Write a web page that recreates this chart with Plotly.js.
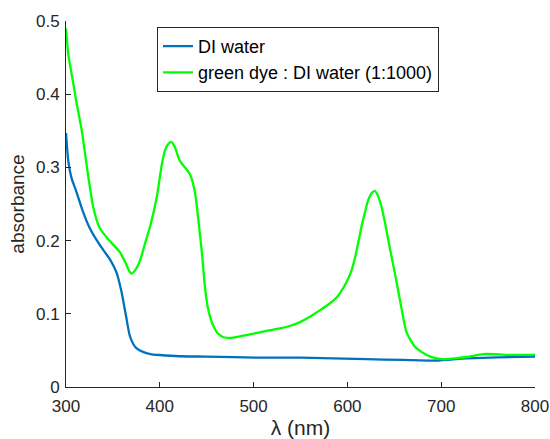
<!DOCTYPE html>
<html>
<head>
<meta charset="utf-8">
<script src="https://cdn.plot.ly/plotly-3.0.1.min.js"></script>
<style>html,body{margin:0;padding:0;background:#fff;}#chart{width:550px;height:439px;}</style>
</head>
<body>
<div id="chart"></div>
<script>
// DI water
const waterWavelength = [300, 302.5, 306, 311, 318, 325, 336, 347, 354, 359, 364, 368, 372, 375, 382, 390, 400, 421, 450, 507, 550, 620, 660, 691, 710, 727, 760, 800];
const waterAbsorbance = [0.347, 0.308, 0.285, 0.267, 0.240, 0.218, 0.194, 0.174, 0.156, 0.131, 0.097, 0.070, 0.058, 0.053, 0.048, 0.045, 0.0437, 0.0420, 0.0415, 0.0400, 0.0400, 0.0380, 0.0370, 0.0360, 0.0375, 0.0390, 0.0405, 0.0415];

// green dye : DI water (1:1000)
const dyeWavelength = [300, 302.5, 308, 311, 317, 322, 329, 336, 347, 357, 363, 368, 370, 374, 379, 384, 390, 397, 402, 406, 409, 412, 416, 420, 423, 428, 432, 435, 438, 441, 445, 448, 451, 454, 458, 462, 468, 475, 485, 500, 515, 528, 540, 550, 560, 571, 580, 589, 599, 604, 608, 612, 615, 619, 622, 626, 629, 632, 636, 640, 644, 648, 651, 656, 663, 672, 684, 695, 702, 715, 727, 745, 770, 798, 800];
const dyeAbsorbance = [0.490, 0.454, 0.413, 0.390, 0.349, 0.303, 0.246, 0.217, 0.199, 0.185, 0.171, 0.157, 0.155, 0.160, 0.173, 0.195, 0.221, 0.261, 0.303, 0.325, 0.332, 0.335, 0.328, 0.313, 0.306, 0.298, 0.291, 0.280, 0.262, 0.230, 0.182, 0.138, 0.110, 0.094, 0.081, 0.073, 0.068, 0.067, 0.069, 0.073, 0.077, 0.080, 0.084, 0.089, 0.096, 0.105, 0.113, 0.123, 0.143, 0.158, 0.176, 0.200, 0.219, 0.240, 0.255, 0.265, 0.268, 0.263, 0.248, 0.225, 0.198, 0.172, 0.153, 0.119, 0.075, 0.055, 0.044, 0.039, 0.038, 0.039, 0.041, 0.045, 0.044, 0.044, 0.044];

const seriesNames = ['DI water', 'green dye : DI water (1:1000)'];
const xTicks = [300, 400, 500, 600, 700, 800];
const yTicks = [0, 0.1, 0.2, 0.3, 0.4, 0.5];
const yTickLabels = ['0', '0.1', '0.2', '0.3', '0.4', '0.5'];

const font = 'Liberation Sans, Arial, Helvetica, sans-serif';
const axisColor = '#262626';

const traces = [
  {x: waterWavelength, y: waterAbsorbance, name: seriesNames[0], type: 'scatter', mode: 'lines',
   line: {color: '#0072BD', width: 2.3, shape: 'spline', smoothing: 0.6}},
  {x: dyeWavelength, y: dyeAbsorbance, name: seriesNames[1], type: 'scatter', mode: 'lines',
   line: {color: '#00FF00', width: 2.3, shape: 'spline', smoothing: 0.6}}
];

const layout = {
  width: 550, height: 439,
  margin: {l: 66, r: 15, t: 21, b: 52},
  paper_bgcolor: '#fff', plot_bgcolor: '#fff',
  font: {family: font, color: axisColor, size: 17},
  showlegend: true,
  legend: {x: 0.194, xanchor: 'left', y: 0.984, yanchor: 'top', bgcolor: '#fff',
           bordercolor: axisColor, borderwidth: 1, font: {size: 18, color: '#000'},
           tracegroupgap: 0},
  xaxis: {range: [300, 800], tickvals: xTicks, ticktext: xTicks.map(String),
          ticks: 'inside', ticklen: 5, tickcolor: axisColor, showgrid: false, zeroline: false,
          showline: true, linecolor: axisColor, linewidth: 1, mirror: false,
          ticklabelstandoff: 4,
          tickfont: {size: 17, color: axisColor},
          title: {text: 'λ (nm)', font: {size: 21, color: axisColor}, standoff: 4}},
  yaxis: {range: [0, 0.5], tickvals: yTicks, ticktext: yTickLabels,
          ticks: 'inside', ticklen: 5, tickcolor: axisColor, showgrid: false, zeroline: false,
          showline: true, linecolor: axisColor, linewidth: 1, mirror: false,
          ticklabelstandoff: 2,
          tickfont: {size: 17, color: axisColor},
          title: {text: 'absorbance', font: {size: 19, color: axisColor}, standoff: 6}}
};

Plotly.newPlot('chart', traces, layout, {displayModeBar: false, staticPlot: true});
</script>
</body>
</html>
